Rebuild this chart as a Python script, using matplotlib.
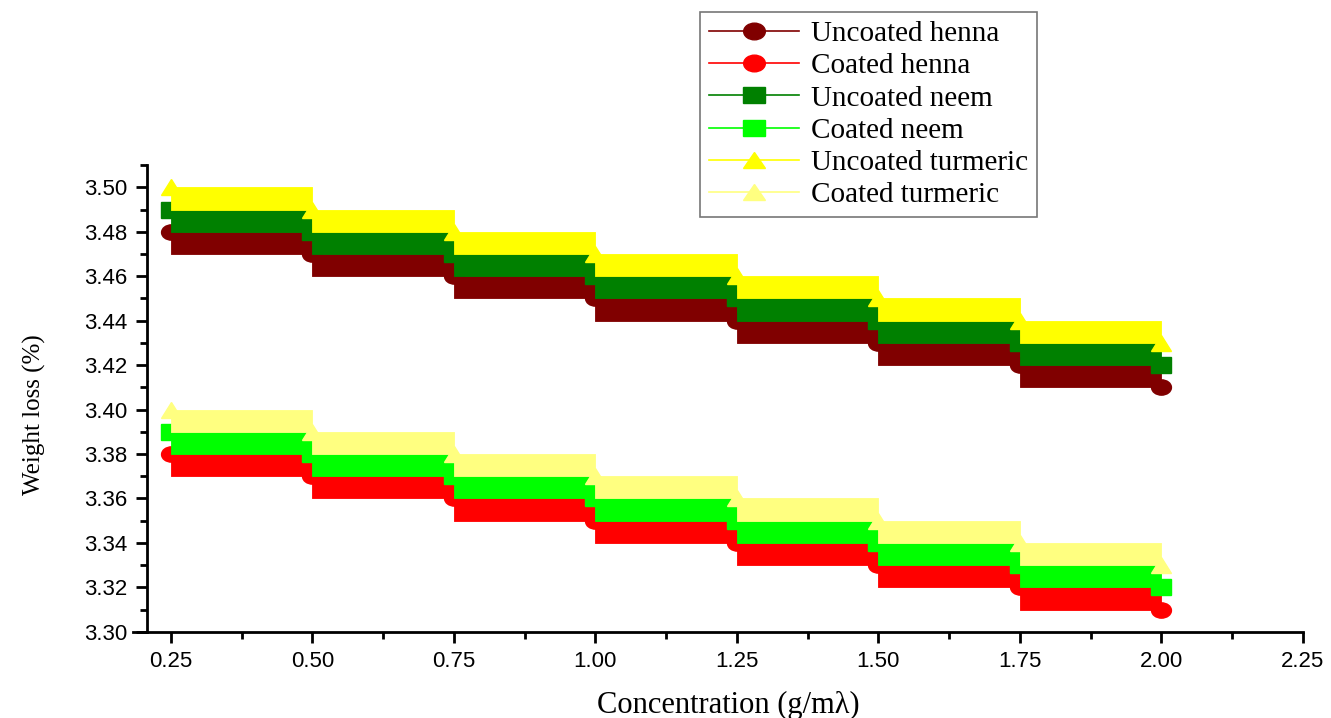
import numpy as np
import matplotlib.pyplot as plt
from matplotlib.ticker import MultipleLocator, FormatStrFormatter
from matplotlib.markers import MarkerStyle
from matplotlib.transforms import Affine2D

# concentration (g/ml)
conc = [0.25, 0.50, 0.75, 1.00, 1.25, 1.50, 1.75, 2.00]

# weight loss (%) per sample
uncoated_henna = [3.48, 3.47, 3.46, 3.45, 3.44, 3.43, 3.42, 3.41]
coated_henna = [3.38, 3.37, 3.36, 3.35, 3.34, 3.33, 3.32, 3.31]
uncoated_neem = [3.49, 3.48, 3.47, 3.46, 3.45, 3.44, 3.43, 3.42]
coated_neem = [3.39, 3.38, 3.37, 3.36, 3.35, 3.34, 3.33, 3.32]
uncoated_turmeric = [3.50, 3.49, 3.48, 3.47, 3.46, 3.45, 3.44, 3.43]
coated_turmeric = [3.40, 3.39, 3.38, 3.37, 3.36, 3.35, 3.34, 3.33]

series = [
    ("Uncoated henna", uncoated_henna, "#800000", "o"),
    ("Coated henna", coated_henna, "#ff0000", "o"),
    ("Uncoated neem", uncoated_neem, "#008000", "s"),
    ("Coated neem", coated_neem, "#00ff00", "s"),
    ("Uncoated turmeric", uncoated_turmeric, "#ffff00", "^"),
    ("Coated turmeric", coated_turmeric, "#ffff80", "^"),
]

def wide(m):
    # the original markers look a bit stretched sideways
    return MarkerStyle(m, transform=Affine2D().scale(1.3, 1.0))

fig = plt.figure(figsize=(13.31, 7.18), dpi=100)
ax = fig.add_axes([0.0999, 0.120, 0.8790, 0.650])

# henna first, then neem, then turmeric so the upper blocks sit on top
for i, (name, vals, col, mk) in enumerate(series):
    z = 2 + i // 2
    ax.plot(conc, vals, linestyle='none', marker=wide(mk), markersize=11,
            color=col, zorder=z)
    for k in range(len(conc) - 1):
        ax.fill_between([conc[k], conc[k + 1]], vals[k + 1], vals[k],
                        color=col, linewidth=0.6, edgecolor=col, zorder=z)
    # legend proxy
    ax.plot([], [], color=col, marker=wide(mk), markersize=12, linewidth=1.2,
            label=name)

ax.set_xlim(0.183, 2.25)
ax.set_ylim(3.30, 3.51)
ax.spines['top'].set_visible(False)
ax.spines['right'].set_visible(False)
ax.spines['left'].set_position(('data', 0.208))
for s in ['left', 'bottom']:
    ax.spines[s].set_linewidth(2)

ax.xaxis.set_minor_locator(MultipleLocator(0.125))
ax.yaxis.set_major_locator(MultipleLocator(0.02))
ax.yaxis.set_minor_locator(MultipleLocator(0.01))
ax.xaxis.set_major_formatter(FormatStrFormatter('%.2f'))
ax.yaxis.set_major_formatter(FormatStrFormatter('%.2f'))
ax.set_xticks(np.arange(0.25, 2.26, 0.25))
ax.tick_params(which='major', direction='out', length=8, width=2,
               labelsize=16, pad=6)
ax.tick_params(which='minor', direction='out', length=5, width=2)
for lab in ax.get_xticklabels() + ax.get_yticklabels():
    lab.set_family('Liberation Sans')

ax.set_xlabel("Concentration (g/m\u03bb)", family='Liberation Serif',
              fontsize=22)
ax.xaxis.set_label_coords((728 - 133) / 1170, (632 - 691) / 467)
ax.set_ylabel("Weight loss (%)", family='Liberation Serif', fontsize=18)
ax.yaxis.set_label_coords((46 - 133) / 1170, (632 - 415) / 467)

handles, labels = ax.get_legend_handles_labels()
leg = fig.legend(handles, labels, loc='upper left',
                 bbox_to_anchor=(700 / 1331, 1 - 12 / 718),
                 prop={'family': 'Liberation Serif', 'size': 21},
                 frameon=True, fancybox=False, edgecolor='#555555',
                 labelspacing=0.2, handlelength=3.1, handletextpad=0.4,
                 borderpad=0.3, numpoints=1, borderaxespad=0)
leg.get_frame().set_linewidth(1.2)

fig.savefig("out.png", dpi=100)
